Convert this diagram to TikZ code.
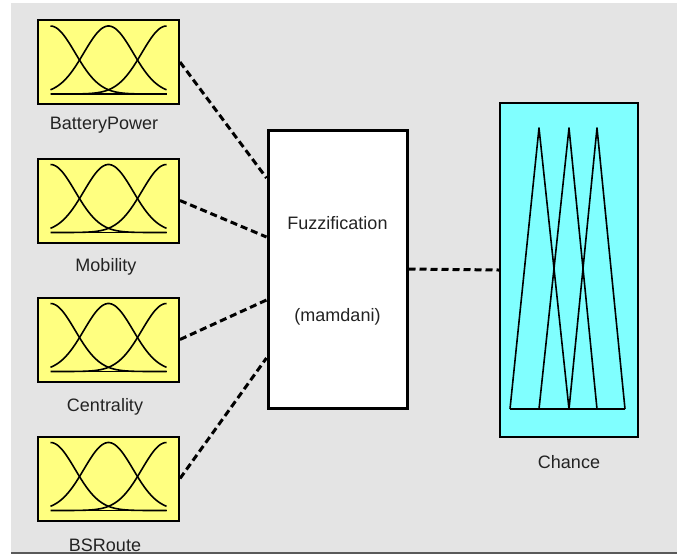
\documentclass[tikz,border=0pt]{standalone}
\usepackage{fontspec}
\setmainfont{Liberation Sans}
\definecolor{bggray}{RGB}{228,228,228}
\definecolor{inyellow}{RGB}{255,255,128}
\definecolor{outcyan}{RGB}{128,255,255}
\definecolor{labelgray}{RGB}{35,35,35}
\begin{document}
\begin{tikzpicture}[x=1pt,y=-1pt,
  input box/.style={rectangle,draw,line width=2pt,fill=inyellow,minimum width=141pt,minimum height=84pt,inner sep=0pt},
  rule box/.style={rectangle,draw,line width=3pt,fill=white,minimum width=139pt,minimum height=278pt,inner sep=0pt},
  output box/.style={rectangle,draw,line width=2pt,fill=outcyan,minimum width=138pt,minimum height=334pt,inner sep=0pt},
  var label/.style={font=\fontsize{18}{20}\selectfont,text=labelgray,inner sep=0pt},
  mf line/.style={line width=1.6pt,line join=round},
  link/.style={line width=3pt,dash pattern=on 7pt off 4pt}]

  \useasboundingbox (0,0) rectangle (677,558);
  \fill[white] (0,0) rectangle (677,558);
  \fill[bggray] (11,3) rectangle (677,552);
  \draw[line width=2.5pt,black!65] (11,553) -- (677,553);

  \node[input box] (bp) at (108.5,62) {};
  \node[input box] (mob) at (108.5,200.5) {};
  \node[input box] (cen) at (108.5,339.5) {};
  \node[input box] (bsr) at (108.5,478.5) {};
  \node[rule box] (fz) at (337.5,269) {};
  \node[output box] (ch) at (569,270) {};

  \node[var label] (bpl) at (104,125) {BatteryPower};
  \node[var label] (mobl) at (106,267) {Mobility};
  \node[var label] (cenl) at (105,407) {Centrality};
  \node[var label] (bsrl) at (105,545) {BSRoute};
  \node[var label] (fzl) at (337.5,223) {Fuzzification};
  \node[var label] (fzm) at (337.5,317) {(mamdani)};
  \node[var label] (chl) at (569,462) {Chance};

  \foreach \b in {bp,mob,cen,bsr} {
    \begin{scope}[shift={(\b.center)}]
      \draw[mf line] (-58,32) -- (58,32);
      \foreach \m in {-58,0,58}
        \draw[mf line] plot[domain=-58:58,samples=60,smooth]
          (\x,{32-68*exp(-((\x-\m)^2)/(2*24.6^2))});
    \end{scope}
  }

  \begin{scope}[shift={(ch.center)}]
    \draw[mf line] (-59,139) -- (56,139);
    \foreach \l/\p/\r in {-59/-30/0,-30/0/28,0/28/56}
      \draw[mf line] (\l,139) -- (\p,-142) -- (\r,139);
  \end{scope}

  \path[link]
   (bp.east) edge ([yshift=91pt]fz.west)
   (mob.east) edge ([yshift=32pt]fz.west)
   (cen.east) edge ([yshift=-31pt]fz.west)
   (bsr.east) edge ([yshift=-89pt]fz.west)
   (fz.east) edge (ch.west);
\end{tikzpicture}
\end{document}
